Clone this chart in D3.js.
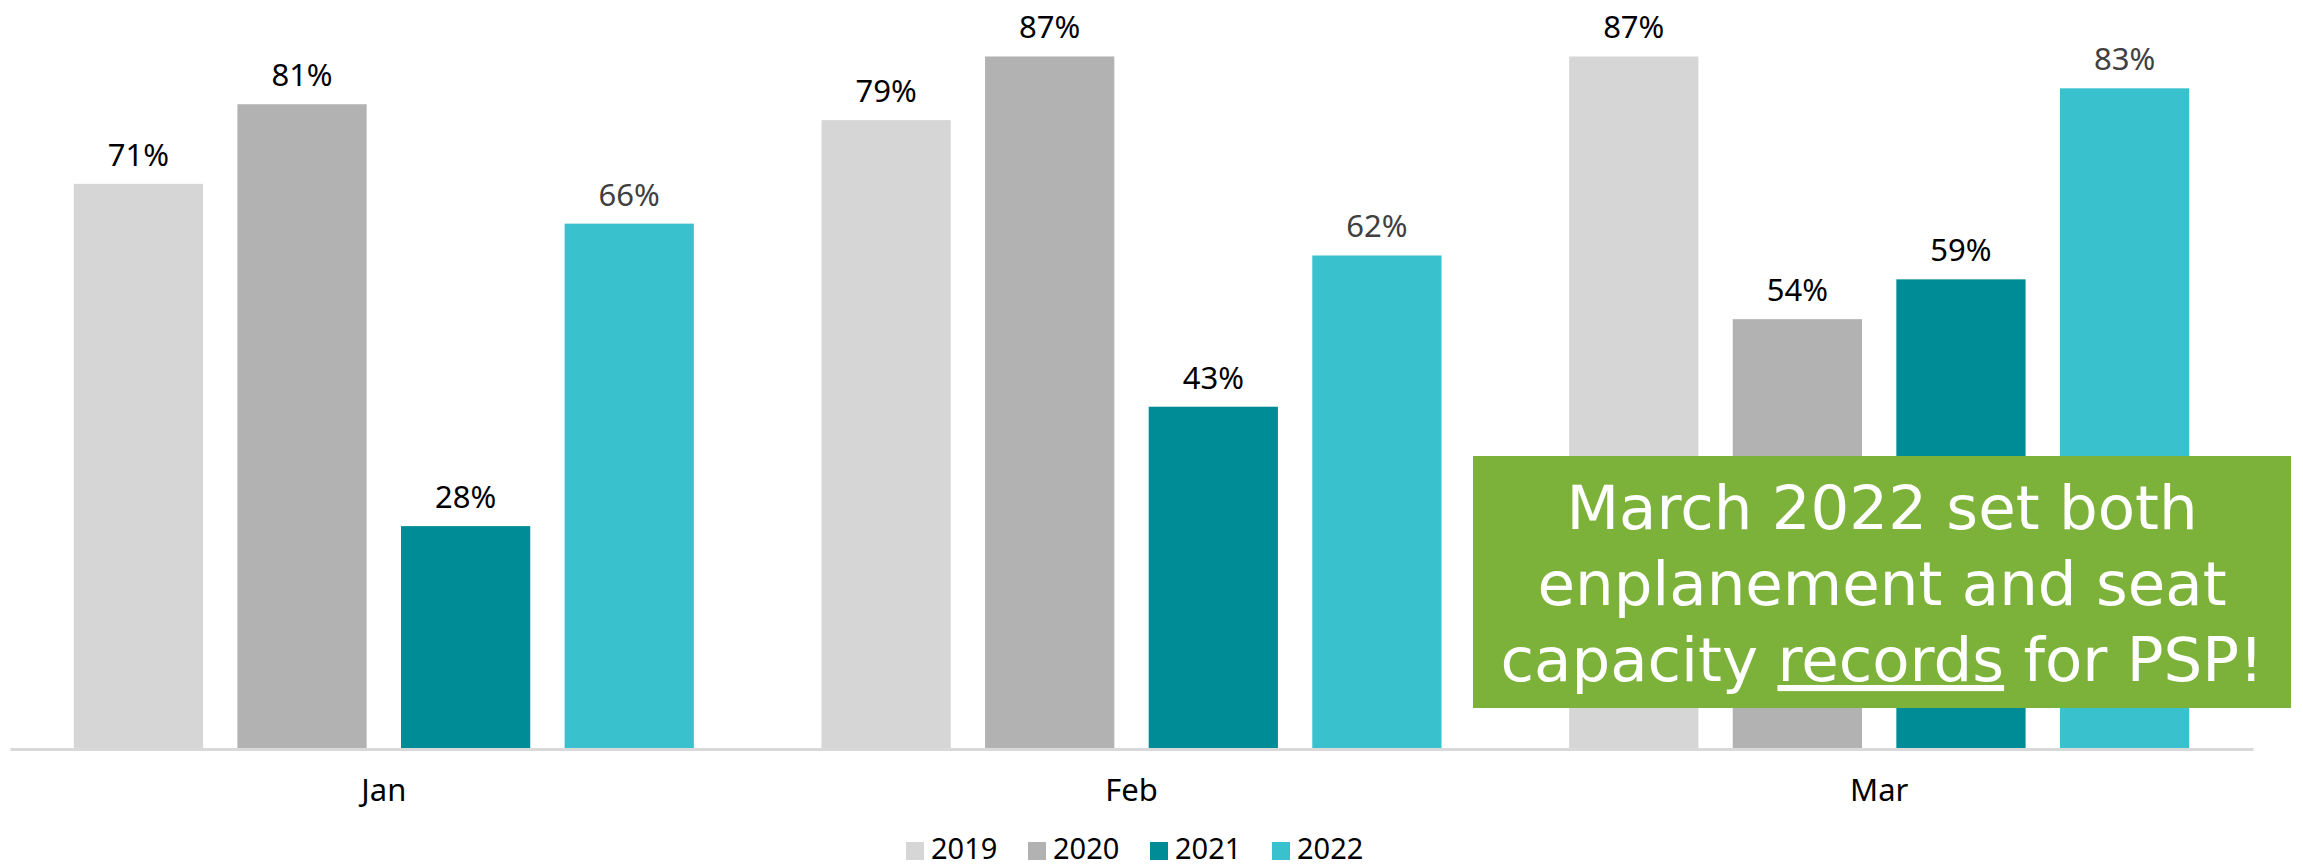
<!DOCTYPE html>
<html lang="en">
<head>
    <meta charset="UTF-8">
    <title>Load factor by month</title>
    <script src="https://d3js.org/d3.v7.min.js"></script>
    <style>
        html, body { margin: 0; padding: 0; background: #fff; }
        svg { display: block; font-family: "Noto Sans", "Open Sans", sans-serif; }
    </style>
</head>
<body>
    <div id="chart"></div>
    <script>
        // Data
        const months = ["Jan", "Feb", "Mar"];
        const years = ["2019", "2020", "2021", "2022"];
        const values2019 = [0.71, 0.79, 0.87];
        const values2020 = [0.81, 0.87, 0.54];
        const values2021 = [0.28, 0.43, 0.59];
        const values2022 = [0.66, 0.62, 0.83];
        const noteLines = ["March 2022 set both", "enplanement and seat"];

        const yearColors = ["#d6d6d6", "#b2b2b2", "#008c96", "#39c2ce"];
        const labelColors = ["#000", "#000", "#000", "#404040"];

        const series = years.map((yr, i) => ({
            year: yr,
            values: [values2019, values2020, values2021, values2022][i]
        }));

        const W = 2303, H = 867;
        const svg = d3.select("#chart").append("svg")
            .attr("width", W)
            .attr("height", H);

        const baseline = 749;

        // Scales
        const x0 = d3.scaleBand()
            .domain(months)
            .range([10, 2253])
            .paddingInner(0)
            .paddingOuter(0);

        const x1 = d3.scaleBand()
            .domain(years)
            .range([0, x0.bandwidth()])
            .paddingInner(0.21)
            .paddingOuter(0.39);

        const y = d3.scaleLinear()
            .domain([0, 0.94])
            .range([baseline, baseline - 0.94 * 796]);

        const color = d3.scaleOrdinal().domain(years).range(yearColors);
        const fmt = d3.format(".0%");

        // Bars
        const groups = svg.selectAll(".series")
            .data(series)
            .enter().append("g")
            .attr("class", "series");

        groups.selectAll("rect")
            .data(s => s.values.map((v, j) => ({ year: s.year, month: months[j], value: v })))
            .enter().append("rect")
            .attr("x", d => x0(d.month) + x1(d.year))
            .attr("y", d => y(d.value))
            .attr("width", x1.bandwidth())
            .attr("height", d => y(0) - y(d.value))
            .attr("fill", d => color(d.year));

        // Value labels
        groups.selectAll("text")
            .data((s, i) => s.values.map((v, j) => ({ year: s.year, month: months[j], value: v, c: labelColors[i] })))
            .enter().append("text")
            .attr("x", d => x0(d.month) + x1(d.year) + x1.bandwidth() / 2)
            .attr("y", d => y(d.value) - 18)
            .attr("text-anchor", "middle")
            .style("font-size", "31px")
            .style("fill", d => d.c)
            .text(d => fmt(d.value));

        // X axis
        const xAxis = svg.append("g")
            .attr("transform", `translate(0,${baseline})`)
            .call(d3.axisBottom(x0).tickSize(0).tickSizeOuter(0).tickPadding(30));

        xAxis.select(".domain")
            .attr("stroke", "#d9d9d9")
            .attr("stroke-width", 3);

        xAxis.selectAll("text")
            .style("font-size", "31px")
            .style("font-family", "\"Noto Sans\", sans-serif")
            .attr("fill", "#000");

        // Legend
        const legendX = d3.scaleBand()
            .domain(years)
            .range([906, 906 + 4 * 122]);

        const legend = svg.append("g");
        const item = legend.selectAll("g")
            .data(years)
            .enter().append("g")
            .attr("transform", d => `translate(${legendX(d)},0)`);

        item.append("rect")
            .attr("y", 842)
            .attr("width", 18)
            .attr("height", 18)
            .attr("fill", d => color(d));

        item.append("text")
            .attr("x", 25)
            .attr("y", 859)
            .style("font-size", "29px")
            .style("fill", "#000")
            .text(d => d);

        // Annotation box
        const box = { x: 1473, y: 456, w: 818, h: 252 };
        svg.append("rect")
            .attr("x", box.x)
            .attr("y", box.y)
            .attr("width", box.w)
            .attr("height", box.h)
            .attr("fill", "#7db23a");

        const noteFont = "\"DejaVu Sans\", sans-serif";

        const note = svg.append("text")
            .attr("text-anchor", "middle")
            .style("font-family", noteFont)
            .style("font-size", "61px")
            .style("fill", "#fff");

        noteLines.forEach((line, i) => {
            note.append("tspan")
                .attr("x", box.x + box.w / 2)
                .attr("y", 529 + i * 76)
                .text(line);
        });

        const last = svg.append("text")
            .attr("x", box.x + box.w / 2)
            .attr("y", 529 + 2 * 76)
            .attr("text-anchor", "middle")
            .style("font-family", noteFont)
            .style("font-size", "61px")
            .style("fill", "#fff");
        last.append("tspan").text("capacity ");
        last.append("tspan").style("text-decoration", "underline").text("records");
        last.append("tspan").text(" for PSP!");
    </script>
</body>
</html>
